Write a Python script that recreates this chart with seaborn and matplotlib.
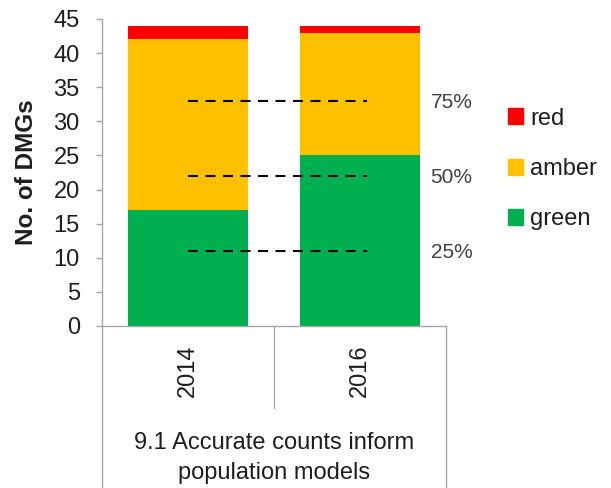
import numpy as np
import pandas as pd
import matplotlib
matplotlib.use("Agg")
import matplotlib.pyplot as plt
from matplotlib.patches import Patch
from matplotlib.lines import Line2D
import seaborn as sns

# data
years = ["2014", "2016"]
green_vals = [17, 25]
amber_vals = [25, 18]
red_vals = [2, 1]
ref_pcts = [25, 50, 75]
group_label = "9.1 Accurate counts inform\npopulation models"

sns.set_theme(style="white")
plt.rcParams['font.family'] = ['Liberation Sans', 'DejaVu Sans']

col_red = "#FF0000"
col_amber = "#FFC000"
col_green = "#00B050"
axis_grey = "#A6A6A6"
txt = "#1E1E1E"

df = pd.DataFrame({"year": years, "green": green_vals,
                   "amber": amber_vals, "red": red_vals})
df["lvl_amber"] = df["green"] + df["amber"]
df["lvl_red"] = df["lvl_amber"] + df["red"]
total = df["lvl_red"].max()

fig = plt.figure(figsize=(6.11, 4.88), dpi=100)
ax = fig.add_axes([0.1669, 0.3320, 0.5631, 0.6291])

# stacked bars drawn as overlapping cumulative totals
for col, c in [("lvl_red", col_red), ("lvl_amber", col_amber), ("green", col_green)]:
    sns.barplot(data=df, x="year", y=col, color=c, saturation=1, width=0.7,
                errorbar=None, linewidth=0, ax=ax)

# reference lines at 25/50/75 % of the total
for p in ref_pcts:
    lvl = total * p / 100
    ax.plot([0, 1.04], [lvl, lvl], color="black", lw=1.5, ls=(0, (4.8, 3.6)))
    ax.text(1.41, lvl - 0.3, f"{p}%", ha="left", va="center", fontsize=15, color="#404040")

ax.set_xlim(-0.5, 1.5)
ax.set_ylim(0, 45)
ax.set_yticks(np.arange(0, 46, 5))
ax.set_xlabel("")
ax.set_ylabel("No. of DMGs", fontsize=17.5, fontweight="bold", color=txt)
ax.yaxis.set_label_coords(-0.185, 0.5)

for s in ["top", "right"]:
    ax.spines[s].set_visible(False)
for s in ["left", "bottom"]:
    ax.spines[s].set_color(axis_grey)
    ax.spines[s].set_linewidth(1)

ax.tick_params(axis="y", direction="out", length=4, width=1, color=axis_grey,
               pad=12, labelsize=17, labelcolor=txt, left=True)
ax.tick_params(axis="x", length=0, pad=13, labelsize=17, labelcolor=txt,
               labelrotation=90)

# multi-level category separators below the axis
x0, x1 = 0.1669, 0.1669 + 0.5631
ybase = 0.3320
fig.add_artist(Line2D([x0, x0], [0, ybase], color=axis_grey, lw=1))
fig.add_artist(Line2D([x1, x1], [0, ybase], color=axis_grey, lw=1))
fig.add_artist(Line2D([(x0 + x1) / 2] * 2, [(488 - 408) / 488, ybase], color=axis_grey, lw=1))

fig.text((x0 + x1) / 2, 0.062, group_label, ha="center", va="center",
         fontsize=17, color=txt, linespacing=1.45)

handles = [Patch(color=col_red), Patch(color=col_amber), Patch(color=col_green)]
fig.legend(handles, ["red", "amber", "green"], loc="center left",
           bbox_to_anchor=(508 / 611, (488 - 169) / 488), frameon=False,
           fontsize=17, handlelength=0.65, handleheight=0.65, handletextpad=0.3,
           labelspacing=1.2, borderpad=0, borderaxespad=0, labelcolor=txt)

fig.savefig("out.png", dpi=100)
